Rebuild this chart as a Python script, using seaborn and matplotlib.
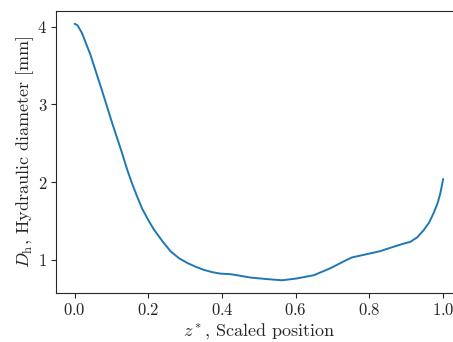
import matplotlib
matplotlib.use("Agg")
import matplotlib.pyplot as plt
import seaborn as sns
import pandas as pd

# Scaled position along the channel and hydraulic diameter [mm]
z_star = [0.0, 0.008, 0.020, 0.043, 0.075, 0.102, 0.129, 0.142, 0.156, 0.170,
          0.183, 0.200, 0.215, 0.238, 0.260, 0.283, 0.305, 0.328, 0.350, 0.373,
          0.396, 0.420, 0.441, 0.477, 0.522, 0.563, 0.601, 0.649, 0.694, 0.735,
          0.753, 0.801, 0.829, 0.874, 0.895, 0.911, 0.930, 0.947, 0.962, 0.974,
          0.985, 0.992, 1.0]
d_h = [4.04, 4.02, 3.92, 3.64, 3.17, 2.76, 2.37, 2.17, 1.98, 1.81,
       1.66, 1.51, 1.39, 1.24, 1.11, 1.02, 0.96, 0.91, 0.87, 0.84,
       0.82, 0.815, 0.80, 0.77, 0.75, 0.735, 0.757, 0.80, 0.89, 0.99,
       1.03, 1.08, 1.11, 1.18, 1.21, 1.23, 1.29, 1.38, 1.48, 1.60,
       1.73, 1.85, 2.04]

sns.set_style("ticks")
plt.rcParams["font.family"] = "serif"
plt.rcParams["font.serif"] = ["cmr10"]
plt.rcParams["mathtext.fontset"] = "cm"
plt.rcParams["axes.formatter.use_mathtext"] = True

df = pd.DataFrame({"z": z_star, "dh": d_h})

fig = plt.figure(figsize=(4.53, 3.42), dpi=100)
ax = fig.add_axes([0.124, 0.143, 0.895, 0.825])
sns.lineplot(data=df, x="z", y="dh", ax=ax, color="#1f77b4", linewidth=1.4)

ax.set_xticks([0.0, 0.2, 0.4, 0.6, 0.8, 1.0])
ax.set_yticks([1, 2, 3, 4])
ax.tick_params(labelsize=12, pad=3)
ax.set_xlabel(r"$z^*$, Scaled position", fontsize=13, labelpad=2)
ax.set_ylabel(r"$D_\mathrm{h}$, Hydraulic diameter [mm]", fontsize=13, labelpad=1)

fig.savefig("out.png", dpi=100)
plt.close()
